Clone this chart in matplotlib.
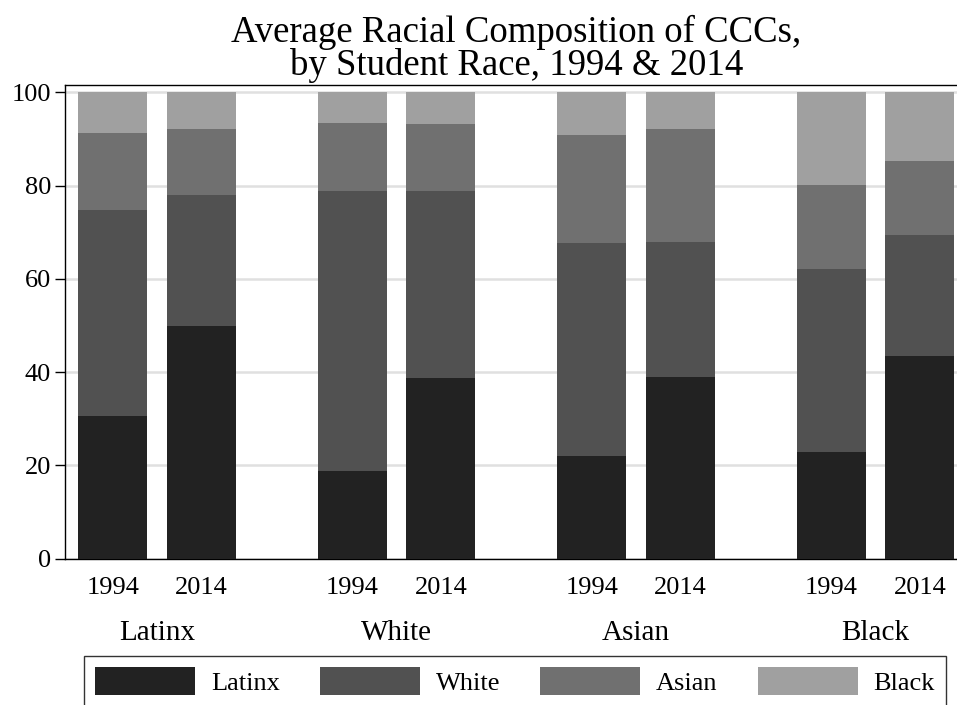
import matplotlib
matplotlib.use("Agg")
import matplotlib.pyplot as plt
import numpy as np

plt.rcParams['font.family'] = ['Liberation Serif', 'DejaVu Serif']

# student race groups and the two survey years
groups = ["Latinx", "White", "Asian", "Black"]
years = ["1994", "2014"]

# average share of each race at the student's college (percent), 1994 then 2014 per group
latinx = [30.5, 49.9, 18.8, 38.8, 22.1, 39.0, 22.8, 43.5]
white = [44.2, 28.0, 60.0, 40.0, 45.6, 28.9, 39.3, 25.9]
asian = [16.7, 14.2, 14.6, 14.5, 23.2, 24.2, 18.0, 15.9]
black = [8.6, 7.9, 6.6, 6.7, 9.1, 7.9, 19.9, 14.7]

series = [("Latinx", latinx, "#222222"),
          ("White", white, "#515151"),
          ("Asian", asian, "#707070"),
          ("Black", black, "#a0a0a0")]

group_gap = 2.7
bar_w = 0.78
xs = np.array([g * group_gap + j for g in range(len(groups)) for j in range(len(years))])
year_labels = years * len(groups)

fig = plt.figure(figsize=(9.57, 7.05), dpi=100)
ax = fig.add_axes([65/957, (705-558.5)/705, 902.6/957, (558.5-85)/705])

bottom = np.zeros(len(xs))
handles = []
for name, vals, col in series:
    b = ax.bar(xs, vals, bar_w, bottom=bottom, color=col, label=name, zorder=3)
    handles.append(b)
    bottom += np.array(vals)

ax.set_xlim(-0.538, xs[-1] + 0.538)
ax.set_ylim(0, 101.6)
ax.set_yticks([0, 20, 40, 60, 80, 100])
ax.yaxis.grid(True, color="#e0e0e0", linewidth=1.8, zorder=0)
ax.set_axisbelow(True)

ax.set_xticks(xs, year_labels)
ax.tick_params(axis="x", length=0, pad=13, labelsize=19)
ax.tick_params(axis="y", length=7, width=1, pad=3, labelsize=19)

for s in ["left", "bottom", "top"]:
    ax.spines[s].set_linewidth(1.0)
    ax.spines[s].set_color("black")
ax.spines["right"].set_visible(False)

# group names under the year labels
for g, name in enumerate(groups):
    ax.text(g * group_gap + 0.5, -0.157, name, transform=ax.get_xaxis_transform(),
            ha="center", va="center", fontsize=21)

ax.set_title("Average Racial Composition of CCCs,\nby Student Race, 1994 & 2014",
             fontsize=26.5, linespacing=0.95, pad=7)

leg = fig.legend(handles=handles, labels=[s[0] for s in series], ncol=4,
                 loc="upper left", bbox_to_anchor=(84/957, 1 - 656/705, 862/957, 0.0),
                 mode="expand", borderaxespad=0, fontsize=19, frameon=True,
                 fancybox=False, edgecolor="black", borderpad=0.42,
                 handlelength=3.79, handleheight=1.25, handletextpad=0.6)
leg.get_frame().set_linewidth(1.0)

fig.savefig("out.png", dpi=100)
